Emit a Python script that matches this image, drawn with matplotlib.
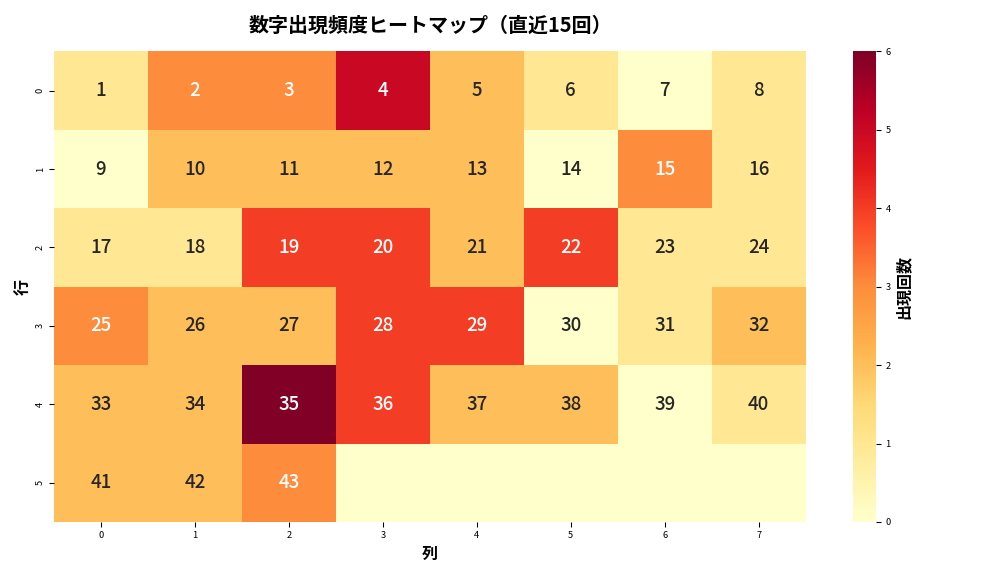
# coding: utf-8

import numpy as np
import matplotlib
matplotlib.use('Agg')
import matplotlib.pyplot as plt
import seaborn as sns

# 出現回数 (row = 行, col = 列), numbers 1..43 laid out 8 per row
row0 = [1, 3, 3, 5, 2, 1, 0, 1]
row1 = [0, 2, 2, 2, 2, 0, 3, 1]
row2 = [1, 1, 4, 4, 2, 4, 1, 1]
row3 = [3, 2, 2, 4, 4, 0, 1, 2]
row4 = [2, 2, 6, 4, 2, 2, 0, 1]
row5 = [2, 2, 3, 0, 0, 0, 0, 0]
max_number = 43
n_cols = 8


def build_labels( n_rows, n_cols, max_number):
    labels = []
    for r in range(n_rows):
        line = []
        for c in range(n_cols):
            num = r * n_cols + c + 1
            line.append(str(num) if num <= max_number else '')
        labels.append(line)
    return np.array(labels)


def main():
    counts = np.array([row0, row1, row2, row3, row4, row5])
    labels = build_labels( counts.shape[0], n_cols, max_number)

    plt.rcParams['font.family'] = ['Noto Sans CJK JP', 'DejaVu Sans']

    fig, ax = plt.subplots(figsize=(10.5, 6), dpi=96)
    hm = sns.heatmap( counts, annot=labels, fmt='', cmap='YlOrRd',
                      vmin=0, vmax=6, ax=ax,
                      annot_kws={'size': 14, 'weight': 'medium'},
                      cbar_kws={'label': '出現回数'})
    ax.tick_params(labelsize=7)
    cbar = hm.collections[0].colorbar
    cbar.ax.tick_params(labelsize=7)
    cbar.set_label('出現回数', fontsize=12, weight='bold')

    ax.set_title('数字出現頻度ヒートマップ（直近15回）', fontsize=15,
                 weight='bold', pad=15)
    ax.set_xlabel('列', fontsize=12, weight='bold')
    ax.set_ylabel('行', fontsize=12, weight='bold')

    plt.tight_layout()
    plt.savefig('out.png', dpi=96)


if __name__ == "__main__":
    main()
